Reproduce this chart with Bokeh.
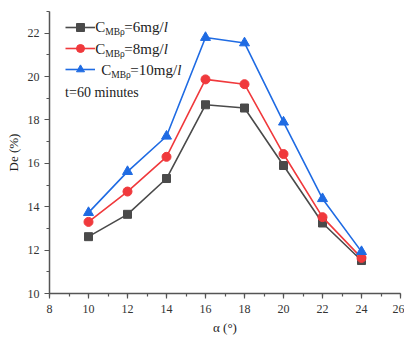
from bokeh.plotting import figure
from bokeh.models import Range1d, SingleIntervalTicker, Label, Legend, LegendItem
from bokeh.embed import file_html
from bokeh.resources import INLINE

alpha = [10, 12, 14, 16, 18, 20, 22, 24]
de_6 = [12.62, 13.65, 15.3, 18.7, 18.55, 15.9, 13.25, 11.52]
de_8 = [13.3, 14.7, 16.3, 19.87, 19.65, 16.43, 13.52, 11.64]
de_10 = [13.73, 15.62, 17.25, 21.8, 21.55, 17.9, 14.37, 11.93]
series_names = ["6mg/", "8mg/", "10mg/"]
note = "t=60 minutes"

FONT = "Liberation Serif"
C_BLACK = "#4a4a4a"
C_RED = "#f0393c"
C_BLUE = "#1f6be3"

p = figure(width=404, height=337, output_backend="svg", toolbar_location=None,
           x_range=Range1d(8, 26), y_range=Range1d(10, 23),
           min_border_left=49, min_border_right=4, min_border_top=11, min_border_bottom=43)
p.outline_line_color = None
p.xgrid.visible = False
p.ygrid.visible = False
p.background_fill_color = "white"

for ax in (p.xaxis[0], p.yaxis[0]):
    ax.ticker = SingleIntervalTicker(interval=2, num_minor_ticks=2)
    ax.axis_line_color = "#555555"
    ax.axis_line_width = 1.5
    ax.major_tick_line_color = "#555555"
    ax.minor_tick_line_color = "#555555"
    ax.major_tick_line_width = 1.2
    ax.minor_tick_line_width = 1.2
    ax.major_tick_out = 5
    ax.major_tick_in = 0
    ax.minor_tick_out = 3
    ax.minor_tick_in = 0
    ax.major_label_text_font = FONT
    ax.major_label_text_font_size = "12px"
    ax.major_label_text_color = "#333333"
    ax.axis_label_text_font = FONT
    ax.axis_label_text_font_size = "13px"
    ax.axis_label_text_font_style = "normal"
    ax.axis_label_text_color = "#222222"

p.xaxis.axis_label = "α (°)"
p.yaxis.axis_label = "De (%)"
p.xaxis.major_label_standoff = 6
p.yaxis.major_label_standoff = 5
p.xaxis.axis_label_standoff = 4
p.yaxis.axis_label_standoff = 4

items = []
for ys, col, mk, sz in ((de_6, C_BLACK, "square", 8), (de_8, C_RED, "circle", 9), (de_10, C_BLUE, "triangle", 10)):
    l = p.line(alpha, ys, line_color=col, line_width=1.6)
    s = p.scatter(alpha, ys, marker=mk, size=sz, fill_color=col, line_color=col)
    items.append(LegendItem(label=" ", renderers=[l, s]))

legend = Legend(items=items, location=(16, 214), padding=0, margin=0, spacing=1,
                glyph_width=30, glyph_height=20, label_width=0, label_height=20,
                label_text_font_size="2px", border_line_color=None,
                background_fill_alpha=0)
p.add_layout(legend, "center")

rows_y = [22.28, 21.27, 20.3]
x0 = 10.35
shift = [0, 0, 6]
for i, nm in enumerate(series_names):
    y = rows_y[i]
    b = shift[i]
    p.add_layout(Label(x=x0, y=y, x_offset=b, text="C", text_font=FONT, text_font_size="15px",
                       text_baseline="middle", text_color="#222222"))
    p.add_layout(Label(x=x0, y=y, x_offset=b + 10, y_offset=-5, text="MBρ", text_font=FONT,
                       text_font_size="9.5px", text_baseline="middle", text_color="#222222"))
    p.add_layout(Label(x=x0, y=y, x_offset=b + 29, text="=" + nm, text_font=FONT, text_font_size="15px",
                       text_baseline="middle", text_color="#222222"))
    w = 39.5 if len(nm) == 4 else 47
    p.add_layout(Label(x=x0, y=y, x_offset=b + 29 + w, text="l", text_font=FONT, text_font_size="15px",
                       text_font_style="italic", text_baseline="middle", text_color="#222222"))

p.add_layout(Label(x=8.8, y=19.28, text=note, text_font=FONT, text_font_size="14px",
                   text_baseline="middle", text_color="#222222"))

open("out.html", "w").write(file_html(p, INLINE))
